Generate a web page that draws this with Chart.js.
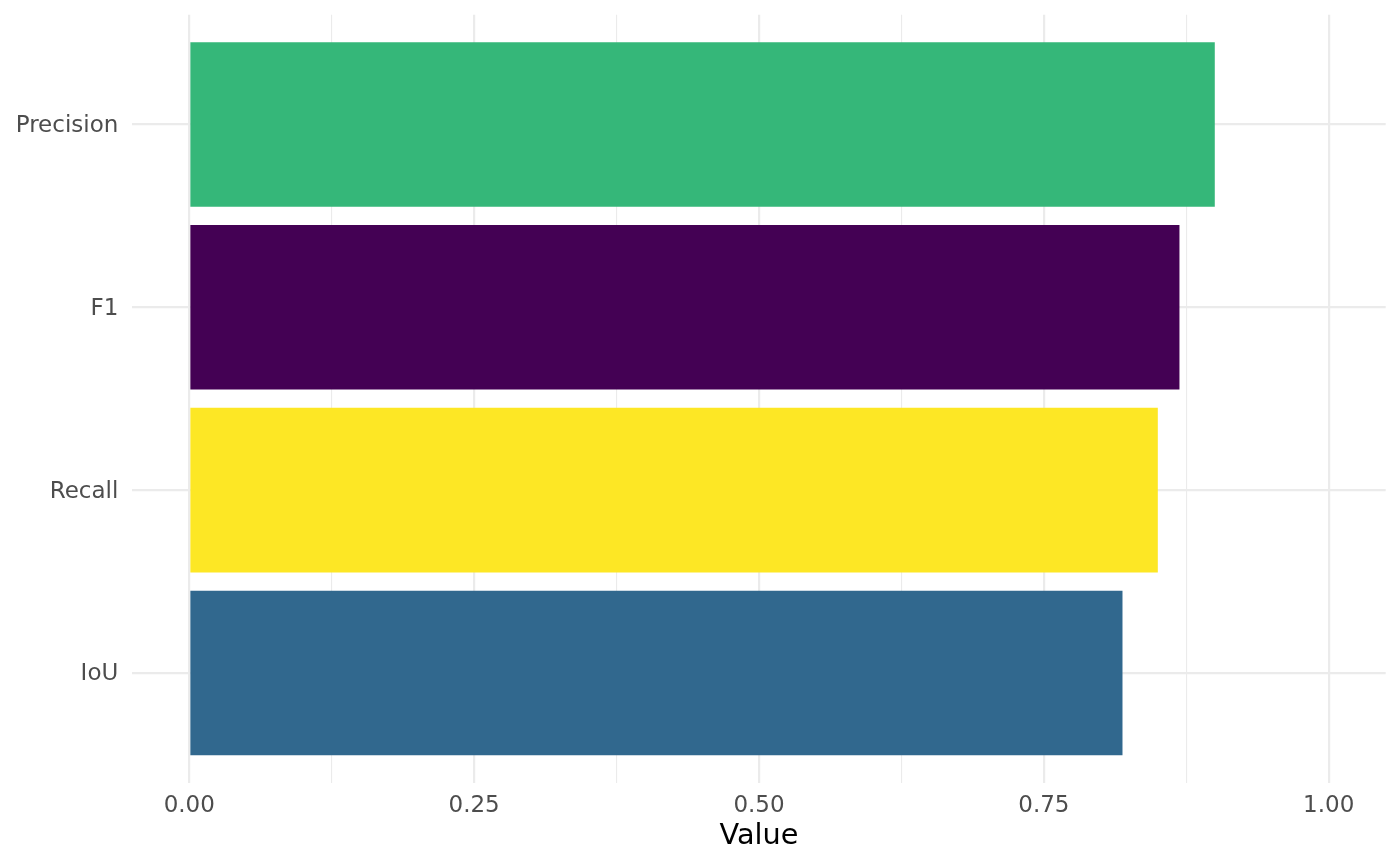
<!DOCTYPE html>
<html>
<head>
<meta charset="utf-8">
<script src="https://cdn.jsdelivr.net/npm/chart.js@4/dist/chart.umd.min.js"></script>
<style>
    html, body { margin: 0; padding: 0; background: #ffffff; }
    #wrap { width: 1400px; height: 866px; position: relative; }
</style>
</head>
<body>
<div id="wrap"><canvas id="chart"></canvas></div>
<script>
// Dados
const categories = ['Precision', 'F1', 'Recall', 'IoU'];
const values = [0.900, 0.869, 0.850, 0.819];
const barColors = ['#35B779', '#440154', '#FDE725', '#31688E'];
const xTicks = [0, 0.125, 0.25, 0.375, 0.5, 0.625, 0.75, 0.875, 1];
const xMajorTicks = [0, 0.25, 0.5, 0.75, 1];

Chart.defaults.font.family = '"DejaVu Sans", sans-serif';

const gridColor = '#EBEBEB';

const points = values.map((v, i) => ({ x: v, y: i + 1 }));

new Chart(document.getElementById('chart'), {
    type: 'bar',
    data: {
        datasets: [{
            data: points,
            backgroundColor: barColors,
            borderWidth: 0,
            barPercentage: 0.9,
            categoryPercentage: 1.0
        }]
    },
    options: {
        indexAxis: 'y',
        responsive: true,
        maintainAspectRatio: false,
        animation: false,
        layout: { padding: { top: 14.7, right: 14.3, left: 0, bottom: 0 } },
        plugins: {
            legend: { display: false },
            tooltip: { enabled: false }
        },
        scales: {
            x: {
                type: 'linear',
                min: -0.05,
                max: 1.05,
                afterBuildTicks: (scale) => {
                    scale.ticks = xTicks.map(v => ({ value: v }));
                },
                afterFit: (scale) => {
                    scale.height = 83.3;
                    scale.paddingLeft = 0;
                    scale.paddingRight = 0;
                },
                border: { display: false },
                grid: {
                    color: gridColor,
                    drawTicks: false,
                    lineWidth: (ctx) => xMajorTicks.includes(ctx.tick.value) ? 2.2 : 1.1
                },
                ticks: {
                    autoSkip: false,
                    maxRotation: 0,
                    minRotation: 0,
                    padding: 10,
                    color: '#4D4D4D',
                    font: { size: 23 },
                    callback: (value) => xMajorTicks.includes(value) ? value.toFixed(2) : ''
                },
                title: {
                    display: true,
                    text: 'Value',
                    color: '#000000',
                    font: { size: 28.75 },
                    padding: { top: 0, bottom: 12.5 }
                }
            },
            y: {
                type: 'linear',
                reverse: true,
                offset: false,
                min: 0.4,
                max: 4.6,
                afterBuildTicks: (scale) => {
                    scale.ticks = categories.map((c, i) => ({ value: i + 1 }));
                },
                afterFit: (scale) => {
                    scale.width = 132.3;
                    scale.paddingTop = 0;
                    scale.paddingBottom = 0;
                },
                border: { display: false },
                grid: {
                    offset: false,
                    color: gridColor,
                    drawTicks: false,
                    lineWidth: 2.2
                },
                ticks: {
                    autoSkip: false,
                    padding: 14,
                    labelOffset: 1.5,
                    color: '#4D4D4D',
                    font: { size: 23 },
                    callback: (value) => categories[value - 1] || ''
                }
            }
        }
    }
});
</script>
</body>
</html>
